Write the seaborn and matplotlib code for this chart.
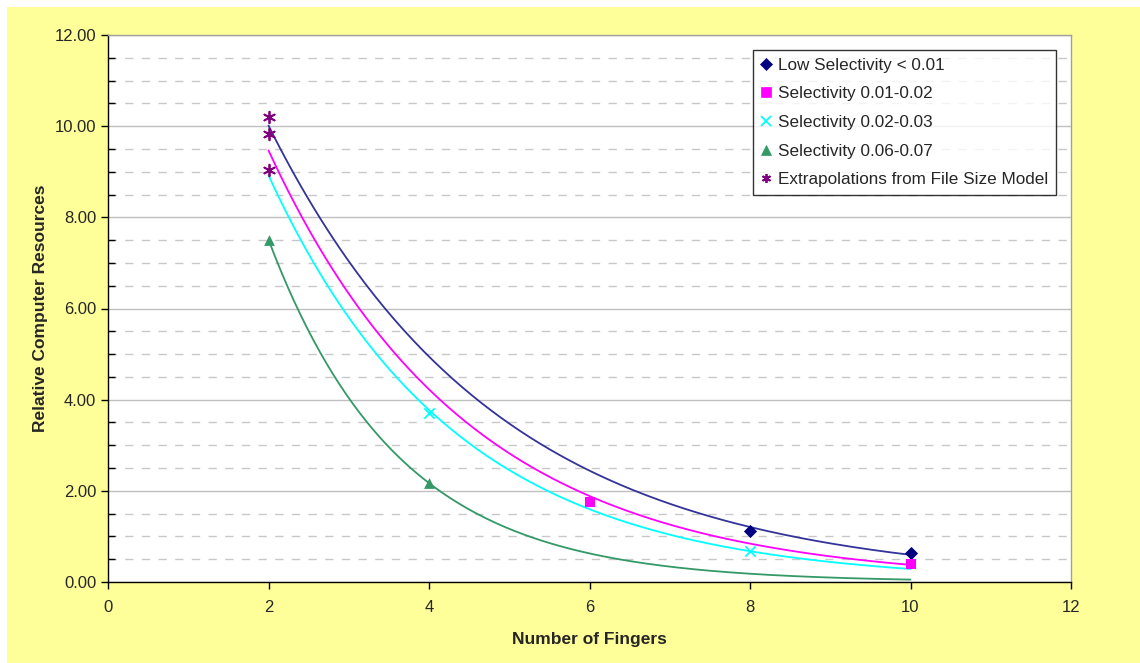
import numpy as np
import pandas as pd
import seaborn as sns
import matplotlib.pyplot as plt
from matplotlib.patches import Rectangle
from matplotlib.ticker import MultipleLocator, FormatStrFormatter
from matplotlib.lines import Line2D

# Datos
low_x = [8, 10]
low_y = [1.12, 0.63]
sel12_x = [6, 10]
sel12_y = [1.75, 0.39]
sel23_x = [4, 8]
sel23_y = [3.70, 0.68]
sel67_x = [2, 4]
sel67_y = [7.51, 2.17]
extra_x = [2, 2, 2]
extra_y = [10.20, 9.83, 9.04]

series_names = ['Low Selectivity < 0.01', 'Selectivity 0.01-0.02',
                'Selectivity 0.02-0.03', 'Selectivity 0.06-0.07',
                'Extrapolations from File Size Model']
marker_colors = ['#000080', '#FF00FF', '#00FFFF', '#339966', '#800080']
line_colors = ['#333399', '#FF00FF', '#00FFFF', '#339966']
markers = ['D', 's', 'x', '^', (6, 2, 0)]
marker_sizes = [45, 55, 55, 60, 70]

sns.set_style('white')
plt.rcParams['font.family'] = ['Liberation Sans', 'DejaVu Sans']

fig = plt.figure(figsize=(11.4, 6.63), dpi=100)
fig.patches.append(Rectangle((7 / 1140, 0), 1, 1 - 7 / 663, transform=fig.transFigure,
                             facecolor='#FFFF99', edgecolor='none', zorder=-10))
ax = fig.add_axes([108 / 1140, 1 - 582 / 663, (1071 - 108) / 1140, (582 - 35) / 663])
ax.set_facecolor('white')

# Lineas de tendencia exponenciales (ajuste sobre puntos + extrapolacion)
fits = [
    (extra_x[:1] + low_x, extra_y[:1] + low_y),
    (extra_x[1:2] + sel12_x, extra_y[1:2] + sel12_y),
    (extra_x[2:3] + sel23_x, extra_y[2:3] + sel23_y),
    (sel67_x, sel67_y),
]
xs = np.linspace(2, 10, 200)
for (fx, fy), c in zip(fits, line_colors):
    b, a = np.polyfit(fx, np.log(fy), 1)
    trend = pd.DataFrame({'x': xs, 'y': np.exp(a + b * xs)})
    sns.lineplot(data=trend, x='x', y='y', color=c, linewidth=1.3, ax=ax, zorder=3)

points = [(low_x, low_y), (sel12_x, sel12_y), (sel23_x, sel23_y),
          (sel67_x, sel67_y), (extra_x, extra_y)]
for (px, py), name, c, m, s in zip(points, series_names, marker_colors, markers, marker_sizes):
    df = pd.DataFrame({'x': px, 'y': py})
    lw = 1.3 if m in ('x', (6, 2, 0)) else 0
    sns.scatterplot(data=df, x='x', y='y', color=c, marker=m, s=s, linewidth=lw,
                    edgecolor=c, ax=ax, zorder=4)

ax.set_xlim(0, 12)
ax.set_ylim(0, 12)
ax.xaxis.set_major_locator(MultipleLocator(2))
ax.yaxis.set_major_locator(MultipleLocator(2))
ax.yaxis.set_minor_locator(MultipleLocator(0.5))
ax.yaxis.set_major_formatter(FormatStrFormatter('%.2f'))

ax.grid(True, which='major', axis='y', color='#C0C0C0', linewidth=1.0, linestyle='-')
ax.grid(True, which='minor', axis='y', color='#C8C8C8', linewidth=1.0, linestyle=(0, (6, 6)))
ax.set_axisbelow(True)

for side in ['left', 'bottom']:
    ax.spines[side].set_color('black')
    ax.spines[side].set_linewidth(1.0)
for side in ['top', 'right']:
    ax.spines[side].set_color('#A0A0A0')
    ax.spines[side].set_linewidth(1.0)

ax.tick_params(axis='both', which='major', direction='out', length=5, width=1,
               color='black', labelsize=12, bottom=True, left=True)
ax.tick_params(axis='y', which='minor', direction='in', length=5, width=1, color='black', left=True)
ax.tick_params(axis='x', pad=8)

ax.set_xlabel('Number of Fingers', fontsize=12.5, fontweight='bold', labelpad=12)
ax.set_ylabel('Relative Computer Resources', fontsize=12.5, fontweight='bold', labelpad=5)

handles = [Line2D([], [], linestyle='none', marker=m, color=c, markersize=6.5,
                  markeredgewidth=1.3 if m in ('x', (6, 2, 0)) else 0.5)
           for m, c in zip(markers, marker_colors)]
leg = ax.legend(handles, series_names, loc='upper right', bbox_to_anchor=(0.9844, 0.9726),
                fontsize=12.3, frameon=True, fancybox=False, handlelength=0.6,
                handletextpad=0.4, labelspacing=0.8, borderpad=0.45, borderaxespad=0)
leg.get_frame().set_edgecolor('black')
leg.get_frame().set_linewidth(1.0)

fig.savefig('out.png', dpi=100, facecolor='white')
